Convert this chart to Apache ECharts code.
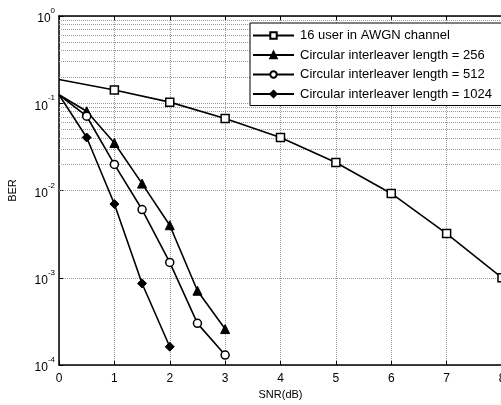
<!DOCTYPE html>
<html><head><meta charset="utf-8">
<script src="https://cdn.jsdelivr.net/npm/echarts@6/dist/echarts.min.js"></script>
<style>html,body{margin:0;padding:0;background:#fff}#c{width:501px;height:405px}</style>
</head><body><div id="c"></div>
<script>
const xTicks = [0,1,2,3,4,5,6,7,8];
const seriesNames = ['16 user in AWGN channel','Circular interleaver length = 256','Circular interleaver length = 512','Circular interleaver length = 1024'];
const awgnX = [0,1,2,3,4,5,6,7,8];
const awgnY = [0.187,0.142,0.103,0.0668,0.0404,0.0209,0.00925,0.00321,0.001];
const l256X = [0,0.5,1,1.5,2,2.5,3];
const l256Y = [0.125,0.081,0.035,0.012,0.004,0.00071,0.000258];
const l512X = [0,0.5,1,1.5,2,2.5,3];
const l512Y = [0.125,0.071,0.0199,0.00605,0.0015,0.0003,0.00013];
const l1024X = [0,0.5,1,1.5,2];
const l1024Y = [0.125,0.0405,0.007,0.00086,0.000162];
const minorGrid = [];
[1e-4,1e-3,1e-2,1e-1].forEach(d=>{for(let k=2;k<=9;k++) minorGrid.push(+(d*k).toPrecision(3));});

function mk(xs, ys){ return xs.map((x,i)=> i===0 ? {value:[x,ys[i]], symbol:'none'} : [x,ys[i]]); }
const chart = echarts.init(document.getElementById('c'));
const lineStyle = {color:'#000', width:1.6};
const font = 'Liberation Sans, Arial, sans-serif';
chart.setOption({
  animation:false,
  textStyle:{fontFamily:font},
  grid:{left:59, top:16, width:443, bottom:40, containLabel:false, outerBoundsMode:'none'},
  legend:{
    z:20, zlevel:0,
    orient:'vertical', left:250, top:23, itemWidth:41, itemHeight:8, itemGap:6.5,
    padding:[6,12,5,2], borderColor:'#000', borderWidth:1, backgroundColor:'#fff',
    textStyle:{fontSize:13, color:'#000', fontFamily:font, padding:[0,0,0,1]},
    data:seriesNames
  },
  xAxis:[{
    type:'value', min:0, max:8, interval:1,
    name:'SNR(dB)', nameLocation:'middle', nameGap:24,
    nameTextStyle:{fontSize:11, color:'#000', fontFamily:font},
    axisLine:{lineStyle:{color:'#000', width:1.5}},
    axisTick:{inside:true, length:4, lineStyle:{color:'#000'}},
    axisLabel:{fontSize:12, color:'#000', margin:8, fontFamily:font},
    splitLine:{show:true, lineStyle:{color:'#9a9a9a', type:[1,1], width:1}}
  },{
    type:'value', min:0, max:8, interval:1, position:'top',
    axisLine:{show:true, lineStyle:{color:'#000', width:1.5}},
    axisTick:{inside:true, length:4, lineStyle:{color:'#000'}},
    axisLabel:{show:false}, splitLine:{show:false}
  }],
  yAxis:[{
    type:'log', logBase:10, min:1e-4, max:1,
    name:'BER', nameLocation:'middle', nameGap:41, nameRotate:90,
    nameTextStyle:{fontSize:11, color:'#000', fontFamily:font},
    axisLine:{show:true, lineStyle:{color:'#000', width:1.5}},
    axisTick:{show:true, inside:true, length:4, lineStyle:{color:'#000'}},
    axisLabel:{
      fontFamily:font, margin:4,
      formatter:(v)=>{const e=Math.round(Math.log10(v)); return '{b|10}{s|'+e+'}';},
      rich:{b:{fontSize:12, color:'#000', fontFamily:font, verticalAlign:'bottom'},
            s:{fontSize:8, color:'#000', fontFamily:font, verticalAlign:'top', padding:[0,0,10,0]}}
    },
    splitLine:{show:true, lineStyle:{color:'#9a9a9a', type:[1,1], width:1}}
  }],
  series:[
    {name:seriesNames[0], type:'line', data:mk(awgnX,awgnY), symbol:'rect', symbolSize:8,
     itemStyle:{color:'#fff', borderColor:'#000', borderWidth:1.5}, lineStyle:lineStyle, z:3,
     markLine:{silent:true, symbol:'none', label:{show:false}, animation:false, z:1,
       lineStyle:{color:'#9a9a9a', type:[1,1], width:1},
       data:minorGrid.map(v=>({yAxis:v}))}},
    {name:seriesNames[1], type:'line', data:mk(l256X,l256Y), symbol:'triangle', symbolSize:9,
     itemStyle:{color:'#000', borderColor:'#000', borderWidth:1}, lineStyle:lineStyle, z:3},
    {name:seriesNames[2], type:'line', data:mk(l512X,l512Y), symbol:'circle', symbolSize:8,
     itemStyle:{color:'#fff', borderColor:'#000', borderWidth:1.5}, lineStyle:lineStyle, z:3},
    {name:seriesNames[3], type:'line', data:mk(l1024X,l1024Y), symbol:'diamond', symbolSize:9,
     itemStyle:{color:'#000', borderColor:'#000', borderWidth:1}, lineStyle:lineStyle, z:3}
  ]
});
</script></body></html>
